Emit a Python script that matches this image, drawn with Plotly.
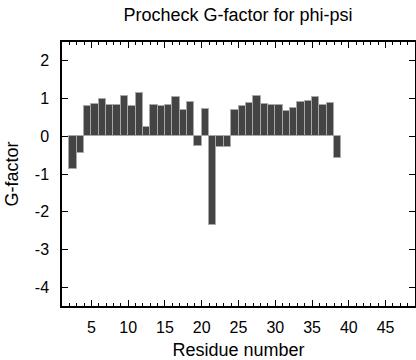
import plotly.graph_objects as go

residues = list(range(2, 39))
gfactor = [-0.86, -0.44, 0.81, 0.85, 0.98, 0.84, 0.82, 1.06, 0.80, 1.15,
           0.24, 0.84, 0.80, 0.84, 1.03, 0.69, 0.91, -0.27, 0.73, -2.36,
           -0.28, -0.28, 0.71, 0.80, 0.87, 1.06, 0.85, 0.82, 0.82, 0.66,
           0.74, 0.90, 0.93, 1.04, 0.82, 0.87, -0.57]
y_tickvals = [2, 1, 0, -1, -2, -3, -4]
y_ticktext = ["2", "1", "0", "-1", "-2", "-3", "-4"]
x_tickvals = [5, 10, 15, 20, 25, 30, 35, 40, 45]

font = "Liberation Sans, Arial, Helvetica, sans-serif"

fig = go.Figure(go.Bar(
    x=residues, y=gfactor, width=1, offset=0,
    marker=dict(color="#444444", line=dict(color="#a8a8a8", width=1)),
))

fig.update_layout(
    width=416, height=360,
    margin=dict(l=62, r=1, t=42, b=54, autoexpand=False),
    paper_bgcolor="white", plot_bgcolor="white",
    showlegend=False,
    font=dict(family=font, size=16, color="black"),
    title=dict(text="Procheck G-factor for phi-psi", x=0.572, xanchor="center",
               y=0.958, yanchor="middle", font=dict(family=font, size=18, color="black")),
    bargap=0,
)
fig.update_xaxes(
    range=[1, 49], tickvals=x_tickvals, ticks="inside", ticklen=6, tickwidth=1,
    tickcolor="black", showline=True, linecolor="black", linewidth=1.5, mirror="ticks",
    showgrid=False, zeroline=False, automargin=False, ticklabelstandoff=6,
    minor=dict(dtick=1, tick0=0, ticks="inside", ticklen=3, tickcolor="black", showgrid=False),
    title=dict(text="Residue number", standoff=8, font=dict(family=font, size=18)),
    tickfont=dict(family=font, size=16),
)
fig.update_yaxes(
    range=[-4.5, 2.5], tickvals=y_tickvals, ticktext=y_ticktext, ticks="inside", ticklen=6,
    tickwidth=1, tickcolor="black", showline=True, linecolor="black", linewidth=1.5,
    mirror="ticks", showgrid=False, zeroline=False, ticklabelstandoff=8, automargin=False,
    title=dict(text="G-factor", standoff=12, font=dict(family=font, size=18)),
    tickfont=dict(family=font, size=16),
)

fig.write_html("out.html", config={"displayModeBar": False},
               post_script="document.body.style.margin='0';")
